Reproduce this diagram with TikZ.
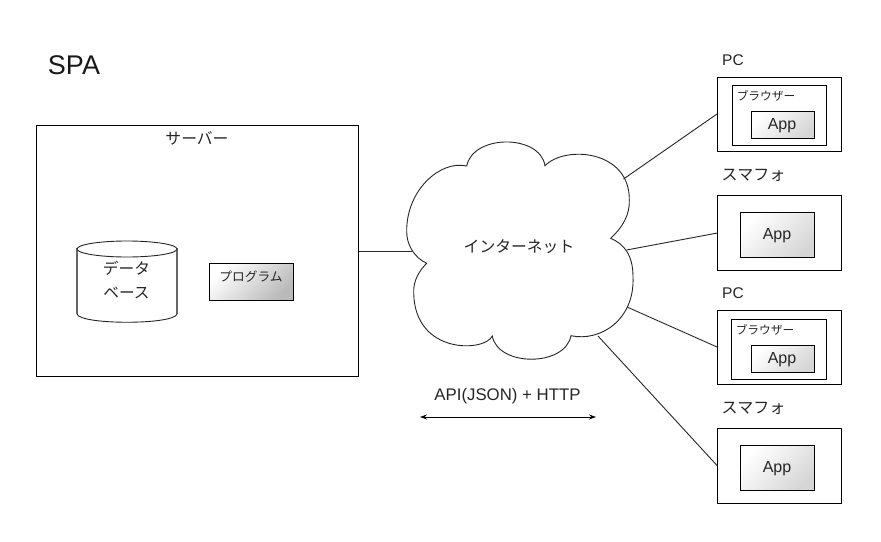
\documentclass[tikz,border=0pt]{standalone}
\usepackage{fontspec}
\usetikzlibrary{arrows.meta}
\setmainfont{Liberation Sans}
\newfontfamily\jp{Noto Sans CJK JP}
\tikzset{
  x=1pt,y=-1pt,
  box/.style={draw=black,line width=1pt,fill=white,minimum width=#1,inner sep=0pt,outer sep=0pt},
  txt/.style={inner sep=0pt,text=black!85},
  line/.style={draw=black!85,line width=0.9pt}
}
\newcommand{\rbox}[5]{\node[box=#4 pt-#2 pt,minimum height=#5 pt-#3 pt,anchor=north west] (#1) at (#2,#3) {};}
\newcommand{\gbox}[7]{\node[draw=black,line width=1pt,inner sep=0pt,outer sep=0pt,minimum width=#4 pt-#2 pt,minimum height=#5 pt-#3 pt,anchor=north west,shading=axis,left color=#6,middle color=#6!75!#7,right color=#7,shading angle=45] (#1) at (#2,#3) {};}
\begin{document}
\begin{tikzpicture}
\useasboundingbox (0,0) rectangle (881,541);
\fill[white] (0,0) rectangle (881,541);
\node[inner sep=0pt,font=\fontsize{27}{27}\selectfont,text=black!90] (title) at (74,65) {SPA};

% server
\rbox{server}{36.5}{125.5}{358.5}{376}
\node[txt,font=\jp\fontsize{15.8}{15.8}\selectfont] (serverlabel) at (197,138) {サーバー};
% database
\coordinate (dbtl) at (77,248);
\coordinate (dbtr) at (177,248);
\coordinate (dbbl) at (77,314);
\coordinate (dbbr) at (177,314);
\draw[draw=black!60,line width=1.2pt] (dbtl) -- (dbbl) (dbtr) -- (dbbr);
\draw[line] (dbbl) .. controls (80,325) and (174,325) .. (dbbr);
\draw[line,fill=white] (127,249) ellipse [x radius=50,y radius=8];
\node[txt,font=\jp\fontsize{15.7}{15.7}\selectfont] (db1) at (126.5,268.5) {データ};
\node[txt,font=\jp\fontsize{15.7}{15.7}\selectfont] (db2) at (126.5,293) {ベース};
% program
\gbox{prog}{209.5}{263.5}{293.5}{300}{white}{black!27}
\node[txt,font=\jp\fontsize{12.7}{12.7}\selectfont] (proglabel) at (251,277) {プログラム};

% cloud
\draw[draw=black!85,line width=0.9pt,fill=white]
  (466.7,166) .. controls (473,134) and (540,134) .. (545,165.7)
  .. controls (565,145) and (630,150) .. (629.3,200)
  .. controls (630,215) and (622,228) .. (610.7,238.3)
  .. controls (624,244) and (633,255) .. (633,276.7)
  .. controls (635,320) and (600,342) .. (571,335.7)
  .. controls (565,367) and (498,367) .. (492.3,336)
  .. controls (485,352) and (415,355) .. (413.7,293.3)
  .. controls (413,280) and (420,270) .. (426.7,263.3)
  .. controls (415,258) and (406,245) .. (406.7,230)
  .. controls (407,190) and (440,160) .. (466.7,166) -- cycle;
\coordinate (cw) at (412,251.5);
\coordinate (c1) at (623.5,179);
\coordinate (c2) at (626.5,250);
\coordinate (c3) at (627,307);
\coordinate (c4) at (598,336);
\node[txt,font=\jp\fontsize{15.8}{15.8}\selectfont] (cloudlabel) at (519,247) {インターネット};

% PC 1
\node[txt,font=\fontsize{15.5}{15.5}\selectfont] (pc1label) at (733,60) {PC};
\rbox{pc1}{717}{77}{841.5}{151}
\rbox{br1}{732}{85.5}{826.5}{145}
\node[txt,font=\jp\fontsize{11.7}{11.7}\selectfont] (br1label) at (766,96) {ブラウザー};
\gbox{app1}{751.5}{111.5}{814}{138}{white}{black!16}
\node[txt,font=\fontsize{16}{16}\selectfont] (app1label) at (782,126) {App};

% Phone 1
\node[txt,font=\jp\fontsize{16}{16}\selectfont] (sm1label) at (753.5,175) {スマフォ};
\rbox{sm1}{717.5}{195.5}{841.5}{270.5}
\gbox{app2}{740.5}{212.5}{814.5}{257.5}{white}{black!16}
\node[txt,font=\fontsize{16}{16}\selectfont] (app2label) at (777,236) {App};

% PC 2
\node[txt,font=\fontsize{15.5}{15.5}\selectfont] (pc2label) at (733,293) {PC};
\rbox{pc2}{717}{310}{841.5}{384}
\rbox{br2}{731.5}{319.5}{826.5}{379}
\node[txt,font=\jp\fontsize{11.7}{11.7}\selectfont] (br2label) at (765,330) {ブラウザー};
\gbox{app3}{751.5}{345.5}{814}{372}{white}{black!16}
\node[txt,font=\fontsize{16}{16}\selectfont] (app3label) at (782,360) {App};

% Phone 2
\node[txt,font=\jp\fontsize{16}{16}\selectfont] (sm2label) at (753.5,408) {スマフォ};
\rbox{sm2}{717.5}{428.5}{841.5}{503.5}
\gbox{app4}{740.5}{445.5}{814.5}{490.5}{white}{black!16}
\node[txt,font=\fontsize{16}{16}\selectfont] (app4label) at (777,469) {App};

% connectors
\draw[line] (server.east |- cw) -- (cw);
\draw[line] (c1) -- (pc1.west);
\draw[line] (c2) -- (sm1.west);
\draw[line] (c3) -- (pc2.west);
\draw[line] (c4) -- (sm2.west);

% legend
\node[txt,font=\fontsize{16.8}{16.8}\selectfont] (apilabel) at (507.5,396.5) {API(JSON) + HTTP};
\coordinate (al) at (420,417);
\coordinate (ar) at (596,417);
\draw[draw=black,line width=0.9pt,{Stealth[length=7pt,width=5pt]}-{Stealth[length=7pt,width=5pt]}] (al) -- (ar);
\end{tikzpicture}
\end{document}
